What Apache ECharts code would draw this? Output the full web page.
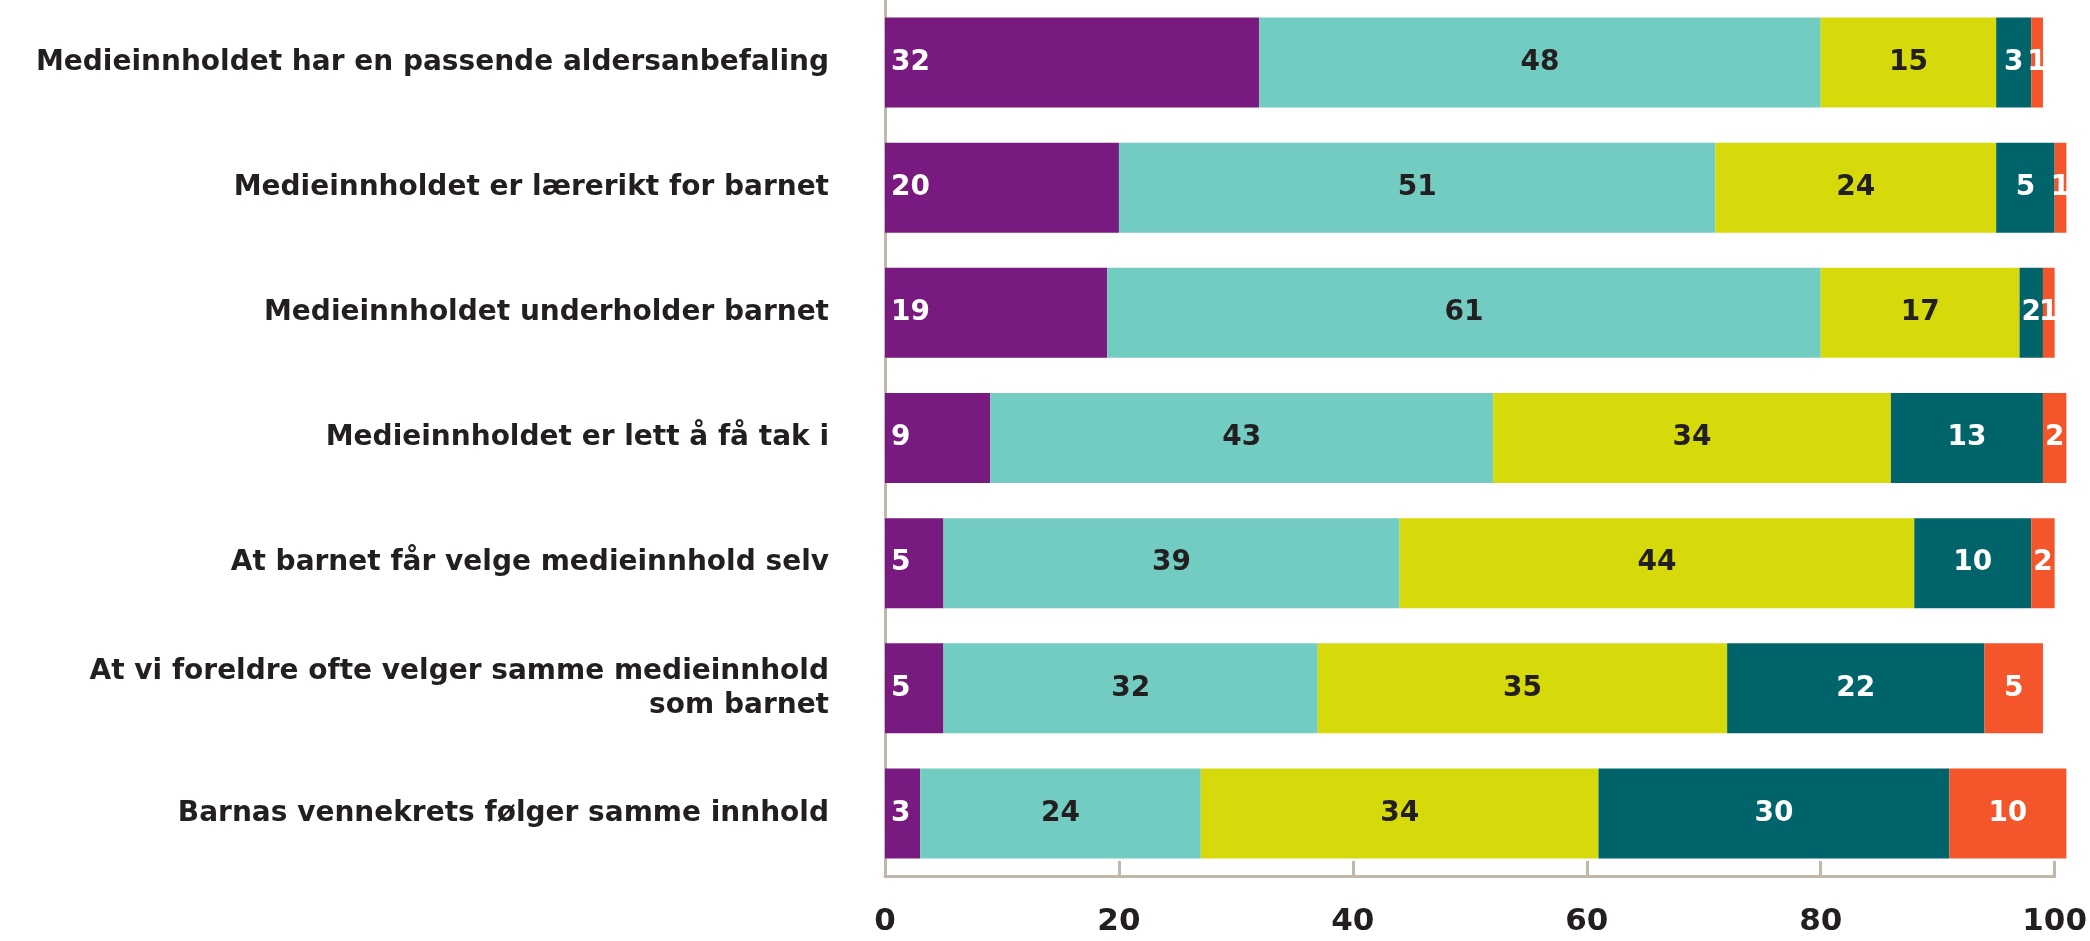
<!DOCTYPE html>
<html>
<head>
<meta charset="utf-8">
<script src="https://cdn.jsdelivr.net/npm/echarts@6/dist/echarts.min.js"></script>
<style>
html,body{margin:0;padding:0;background:#fff;}
#chart{width:2090px;height:941px;}
</style>
</head>
<body>
<div id="chart"></div>
<script>
const categories = [
  "Medieinnholdet har en passende aldersanbefaling",
  "Medieinnholdet er lærerikt for barnet",
  "Medieinnholdet underholder barnet",
  "Medieinnholdet er lett å få tak i",
  "At barnet får velge medieinnhold selv",
  "At vi foreldre ofte velger samme medieinnhold\nsom barnet",
  "Barnas vennekrets følger samme innhold"
];
const s1 = [32, 20, 19, 9, 5, 5, 3];
const s2 = [48, 51, 61, 43, 39, 32, 24];
const s3 = [15, 24, 17, 34, 44, 35, 34];
const s4 = [3, 5, 2, 13, 10, 22, 30];
const s5 = [1, 1, 1, 2, 2, 5, 10];
const xTicks = [0, 20, 40, 60, 80, 100];

const colors = ["#781a7f", "#73ccc2", "#d6d90a", "#00646a", "#f4552b"];
const labelColors = ["#ffffff", "#231f20", "#231f20", "#ffffff", "#ffffff"];
const font = "DejaVu Sans";

function mk(data, i) {
  return {
    type: "bar",
    stack: "total",
    data: data,
    barWidth: 90,
    clip: false,
    itemStyle: { color: colors[i] },
    label: {
      show: true,
      position: i === 0 ? "insideLeft" : "inside",
      distance: 6,
      color: labelColors[i],
      fontFamily: font,
      fontWeight: "bold",
      fontSize: 28
    },
    emphasis: { disabled: true }
  };
}

const chart = echarts.init(document.getElementById("chart"));
chart.setOption({
  animation: false,
  backgroundColor: "#ffffff",
  grid: { left: 885, right: 23, top: 0, height: 876, containLabel: false },
  xAxis: {
    type: "value",
    min: 0, max: 100, interval: 20,
    axisLine: { show: true, lineStyle: { color: "#c0b8ab", width: 3 } },
    axisTick: { show: true, inside: true, length: 15, lineStyle: { color: "#c0b8ab", width: 3 } },
    splitLine: { show: false },
    axisLabel: {
      margin: 30,
      color: "#231f20",
      fontFamily: font,
      fontWeight: "bold",
      fontSize: 31,
      formatter: v => xTicks.includes(v) ? String(v) : ""
    }
  },
  yAxis: {
    type: "category",
    data: categories,
    inverse: true,
    axisLine: { show: true, lineStyle: { color: "#c0b8ab", width: 3 } },
    axisTick: { show: false },
    axisLabel: {
      margin: 56,
      color: "#231f20",
      fontFamily: font,
      fontWeight: "bold",
      fontSize: 28,
      lineHeight: 34,
      align: "right"
    }
  },
  series: [mk(s1, 0), mk(s2, 1), mk(s3, 2), mk(s4, 3), mk(s5, 4)]
});
</script>
</body>
</html>
